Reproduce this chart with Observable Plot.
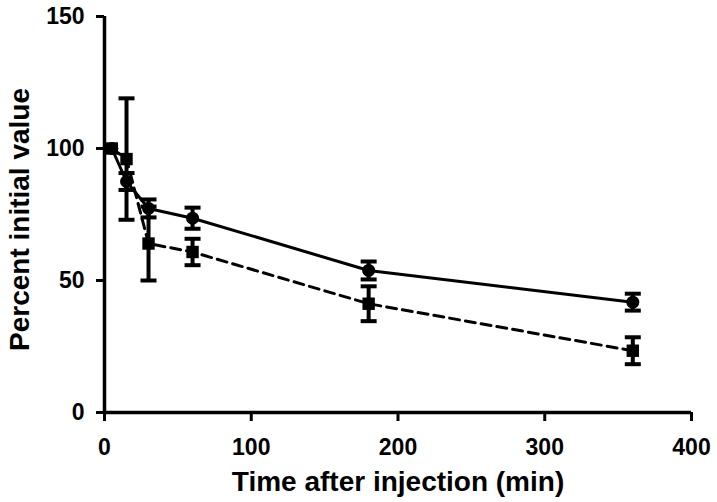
<!DOCTYPE html>
<html>
<head>
<meta charset="utf-8">
<script src="https://cdn.jsdelivr.net/npm/d3@7"></script>
<script src="https://cdn.jsdelivr.net/npm/@observablehq/plot@0.6"></script>
<style>
  html, body { margin: 0; padding: 0; background: #fff; }
</style>
</head>
<body>
<div id="chart"></div>
<script>
// ---- data ----
const times = [5, 15, 30, 60, 180, 360];
const circleMean = [100, 87.5, 77.3, 73.6, 53.8, 41.8];
const circleSD   = [0,   3.2,  3.4,  4.0,  3.4,  3.2];
const squareMean = [100, 96,   64,   60.8, 41.2, 23.4];
const squareSD   = [0,   23,   14,   5,    6.6,  5.1];
const xTicks = [0, 100, 200, 300, 400];
const yTicks = [0, 50, 100, 150];
const xTitle = "Time after injection (min)";
const yTitle = "Percent initial value";

const circles = times.map((t, i) => ({t, mean: circleMean[i], sd: circleSD[i]}));
const squares = times.map((t, i) => ({t, mean: squareMean[i], sd: squareSD[i]}));
const errs = [...circles, ...squares].filter(d => d.sd > 0);

const cap = {
  draw(context, size) {
    const w = Math.sqrt(size / Math.PI);
    context.moveTo(-w, 0);
    context.lineTo(w, 0);
  }
};

const font = "'Liberation Sans', Arial, Helvetica, sans-serif";

const chart = Plot.plot({
  width: 717,
  height: 502,
  marginLeft: 104,
  marginRight: 26,
  marginTop: 16,
  marginBottom: 90,
  style: {fontFamily: font, background: "#fff", color: "#000", overflow: "visible"},
  x: {domain: [0, 400]},
  y: {domain: [0, 150]},
  marks: [
    Plot.axisX({ticks: xTicks, tickSize: 9, tickPadding: 17, fontSize: 23, fontWeight: "bold", strokeWidth: 3, label: null, tickFormat: d => String(d)}),
    Plot.axisY({ticks: yTicks, tickSize: 8, tickPadding: 12, fontSize: 23, fontWeight: "bold", strokeWidth: 3, label: null, tickFormat: d => String(d)}),
    Plot.ruleX([0], {stroke: "black", strokeWidth: 3.5}),
    Plot.ruleY([0], {stroke: "black", strokeWidth: 3.5}),
    Plot.line(circles, {x: "t", y: "mean", stroke: "black", strokeWidth: 3}),
    Plot.line(squares, {x: "t", y: "mean", stroke: "black", strokeWidth: 3, strokeDasharray: "10,6"}),
    Plot.ruleX(errs, {x: "t", y1: d => d.mean - d.sd, y2: d => d.mean + d.sd, stroke: "black", strokeWidth: 4}),
    Plot.dot(errs, {x: "t", y: d => d.mean - d.sd, symbol: cap, r: 8, stroke: "black", fill: "none", strokeWidth: 4}),
    Plot.dot(errs, {x: "t", y: d => d.mean + d.sd, symbol: cap, r: 8, stroke: "black", fill: "none", strokeWidth: 4}),
    Plot.dot(circles, {x: "t", y: "mean", symbol: "circle", r: 6.5, fill: "black", stroke: "none"}),
    Plot.dot(squares, {x: "t", y: "mean", symbol: "square", r: 7, fill: "black", stroke: "none"}),
    Plot.text([xTitle], {frameAnchor: "bottom", textAnchor: "middle", lineAnchor: "middle", dy: 70, fontSize: 28, fontWeight: "bold", fill: "black"}),
    Plot.text([yTitle], {frameAnchor: "left", textAnchor: "middle", lineAnchor: "middle", dx: -84, dy: 5, rotate: -90, fontSize: 28, fontWeight: "bold", fill: "black"})
  ]
});
document.getElementById("chart").appendChild(chart);
</script>
</body>
</html>
